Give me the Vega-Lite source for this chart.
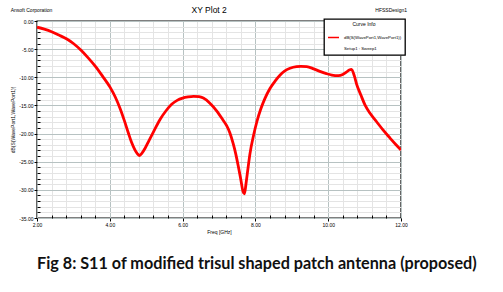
{
  "$schema": "https://vega.github.io/schema/vega-lite/v6.json",
  "autosize": {"type": "none"},
  "width": 364,
  "height": 197,
  "padding": {"left": 37, "top": 21, "right": 102, "bottom": 74},
  "background": "white",
  "config": {
    "view": {"stroke": "black", "strokeWidth": 1.4},
    "font": "Liberation Sans Narrow, Liberation Sans",
    "axis": {"domain": false, "tickColor": "black", "labelColor": "black", "titleColor": "black", "titleFontWeight": "normal", "gridWidth": 1, "gridOpacity": 1, "labelOverlap": false, "labelFlush": false, "labelBound": false},
    "legend": {"strokeWidth": 1.3}
  },
  "title": {
    "text": "Fig 8: S11 of modified trisul shaped patch antenna (proposed)",
    "orient": "bottom",
    "anchor": "start",
    "frame": "group",
    "font": "Lato",
    "fontSize": 16.2,
    "fontWeight": "bold",
    "color": "#111111",
    "offset": 22
  },
  "resolve": {"axis": {"x": "independent", "y": "independent"}},
  "data": {"values": [
    {"freq": 2.00, "s11": -1.1}, {"freq": 2.20, "s11": -1.45}, {"freq": 2.40, "s11": -1.9}, {"freq": 2.60, "s11": -2.5},
    {"freq": 2.82, "s11": -3.2}, {"freq": 3.00, "s11": -4.0}, {"freq": 3.21, "s11": -5.2}, {"freq": 3.40, "s11": -6.5},
    {"freq": 3.61, "s11": -8.1}, {"freq": 3.80, "s11": -9.8}, {"freq": 4.01, "s11": -11.8}, {"freq": 4.15, "s11": -13.5},
    {"freq": 4.28, "s11": -15.5}, {"freq": 4.40, "s11": -17.7}, {"freq": 4.51, "s11": -19.9}, {"freq": 4.60, "s11": -21.6},
    {"freq": 4.69, "s11": -22.9}, {"freq": 4.76, "s11": -23.6}, {"freq": 4.82, "s11": -23.9}, {"freq": 4.88, "s11": -23.5},
    {"freq": 4.97, "s11": -22.6}, {"freq": 5.08, "s11": -21.2}, {"freq": 5.20, "s11": -19.7}, {"freq": 5.38, "s11": -17.5},
    {"freq": 5.55, "s11": -15.9}, {"freq": 5.70, "s11": -14.8}, {"freq": 5.85, "s11": -14.1}, {"freq": 6.00, "s11": -13.7},
    {"freq": 6.15, "s11": -13.5}, {"freq": 6.30, "s11": -13.4}, {"freq": 6.45, "s11": -13.45}, {"freq": 6.57, "s11": -13.7},
    {"freq": 6.75, "s11": -14.6}, {"freq": 6.94, "s11": -16.0}, {"freq": 7.10, "s11": -17.5}, {"freq": 7.21, "s11": -18.6},
    {"freq": 7.30, "s11": -19.9}, {"freq": 7.39, "s11": -21.8}, {"freq": 7.46, "s11": -23.6}, {"freq": 7.53, "s11": -25.8},
    {"freq": 7.60, "s11": -28.2}, {"freq": 7.66, "s11": -30.3}, {"freq": 7.70, "s11": -30.7}, {"freq": 7.74, "s11": -29.0},
    {"freq": 7.80, "s11": -26.0}, {"freq": 7.85, "s11": -23.6}, {"freq": 7.95, "s11": -20.3}, {"freq": 8.04, "s11": -17.9},
    {"freq": 8.15, "s11": -15.6}, {"freq": 8.26, "s11": -13.8}, {"freq": 8.40, "s11": -12.0}, {"freq": 8.55, "s11": -10.6},
    {"freq": 8.68, "s11": -9.6}, {"freq": 8.80, "s11": -8.9}, {"freq": 8.95, "s11": -8.4}, {"freq": 9.13, "s11": -8.1},
    {"freq": 9.25, "s11": -8.05}, {"freq": 9.41, "s11": -8.1}, {"freq": 9.60, "s11": -8.5}, {"freq": 9.77, "s11": -8.95},
    {"freq": 9.95, "s11": -9.35}, {"freq": 10.10, "s11": -9.6}, {"freq": 10.28, "s11": -9.7}, {"freq": 10.40, "s11": -9.5},
    {"freq": 10.50, "s11": -9.1}, {"freq": 10.58, "s11": -8.7}, {"freq": 10.64, "s11": -8.6}, {"freq": 10.72, "s11": -9.8},
    {"freq": 10.78, "s11": -11.2}, {"freq": 10.90, "s11": -13.2}, {"freq": 11.01, "s11": -14.9}, {"freq": 11.15, "s11": -16.4},
    {"freq": 11.33, "s11": -17.9}, {"freq": 11.50, "s11": -19.3}, {"freq": 11.70, "s11": -20.8}, {"freq": 11.85, "s11": -21.9},
    {"freq": 12.00, "s11": -22.9}
  ]},
  "layer": [
    {
      "mark": {"type": "line", "strokeWidth": 2.8, "interpolate": "monotone", "clip": true},
      "encoding": {
        "x": {
          "field": "freq", "type": "quantitative",
          "scale": {"domain": [2, 12], "nice": false, "zero": false},
          "axis": {
            "orient": "bottom",
            "values": [2.4, 2.8, 3.2, 3.6, 4.4, 4.8, 5.2, 5.6, 6.4, 6.8, 7.2, 7.6, 8.4, 8.8, 9.2, 9.6, 10.4, 10.8, 11.2, 11.6],
            "grid": true, "gridColor": "#e4e4e4", "labels": false, "tickSize": -3, "title": null
          }
        },
        "y": {
          "field": "s11", "type": "quantitative",
          "scale": {"domain": [-35, 0], "nice": false, "zero": false},
          "axis": {
            "orient": "left",
            "values": [-34, -33, -32, -31, -29, -28, -27, -26, -24, -23, -22, -21, -19, -18, -17, -16, -14, -13, -12, -11, -9, -8, -7, -6, -4, -3, -2, -1],
            "grid": true, "gridColor": "#e4e4e4", "labels": false, "tickSize": -3, "title": null
          }
        },
        "color": {
          "datum": "dB(S(WavePort1,WavePort1))",
          "type": "nominal",
          "scale": {"domain": ["dB(S(WavePort1,WavePort1))", "Setup1 : Sweep1"], "range": ["#ff0000", "rgba(0,0,0,0)"]},
          "legend": {
            "orient": "none", "legendX": 287, "legendY": -2,
            "title": "Curve Info", "titleAnchor": "middle", "titleFontSize": 5, "titleFontWeight": "normal", "titlePadding": 4,
            "labelFontSize": 4.3, "labelColor": "black", "labelOffset": 4, "labelLimit": 200,
            "symbolType": "stroke", "symbolStrokeWidth": 1.5, "symbolSize": 121,
            "strokeColor": "black", "fillColor": "white", "padding": 3, "rowPadding": 1
          }
        }
      }
    },
    {
      "data": {"values": [{}]},
      "mark": {"type": "text", "fontSize": 8.5, "font": "Liberation Sans Narrow, Liberation Sans", "color": "black"},
      "encoding": {
        "x": {"datum": 6.73, "type": "quantitative", "axis": {
          "orient": "bottom", "values": [2, 4, 6, 8, 10, 12], "grid": true, "gridColor": "#b7c2c2",
          "format": ".2f", "tickSize": 3, "labelFontSize": 5, "labelPadding": 1,
          "title": "Freq [GHz]", "titleFontSize": 5, "titlePadding": 2
        }},
        "y": {"datum": 1.95, "type": "quantitative", "axis": {
          "orient": "left", "values": [-35, -30, -25, -20, -15, -10, -5, 0], "grid": true, "gridColor": "#b7c2c2",
          "labelExpr": "replace(format(datum.value, '.2f'), '\u2212', '-')", "tickSize": 3, "labelFontSize": 5, "labelPadding": 1,
          "title": "dB(S(WavePort1,WavePort1))", "titleFontSize": 5, "titlePadding": 3
        }},
        "text": {"value": "XY Plot 2"}
      }
    },
    {
      "data": {"values": [{}]},
      "mark": {"type": "text", "fontSize": 5, "color": "black"},
      "encoding": {"x": {"datum": 1.85, "type": "quantitative", "axis": null}, "y": {"datum": 1.95, "type": "quantitative", "axis": null}, "text": {"value": "Ansoft Corporation"}}
    },
    {
      "data": {"values": [{}]},
      "mark": {"type": "text", "fontSize": 5, "color": "black"},
      "encoding": {"x": {"datum": 11.73, "type": "quantitative", "axis": null}, "y": {"datum": 1.95, "type": "quantitative", "axis": null}, "text": {"value": "HFSSDesign1"}}
    }
  ]
}
